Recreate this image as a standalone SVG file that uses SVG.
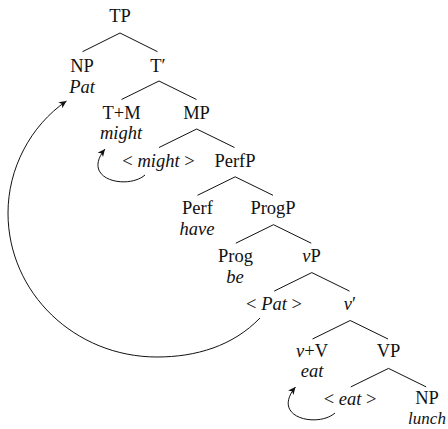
<svg xmlns="http://www.w3.org/2000/svg" width="448" height="429" viewBox="0 0 448 429">
<style>
text{font-family:"Liberation Serif","Times New Roman",serif;font-size:18.5px;fill:#111;text-anchor:middle}
.i{font-style:italic}
.br{stroke:#111;stroke-width:1;fill:none}
.mv{stroke:#111;stroke-width:1;fill:none;marker-end:url(#ah)}
</style>
<defs>
<marker id="ah" viewBox="-8 -4 9 8" refX="0" refY="0" markerWidth="9" markerHeight="8" markerUnits="userSpaceOnUse" orient="auto">
<path d="M0,0 L-7.5,-3.5 L-5.5,0 L-7.5,3.5 Z" fill="#111"/>
</marker>
</defs>
<rect width="448" height="429" fill="#fff"/>
<g id="connectors">
<path class="br" d="M82.5,51.7 L120,33 L157.5,51.7"/>
<path class="br" d="M121.5,99.5 L159,81 L196.5,99.5"/>
<path class="br" d="M159,147.5 L196.7,129 L234.5,147.5"/>
<path class="br" d="M197.5,195.3 L235.2,176.8 L273,195.3"/>
<path class="br" d="M235.8,243.2 L273.5,224.7 L311.2,243.2"/>
<path class="br" d="M274.2,291.1 L311.8,272.6 L349.5,291.1"/>
<path class="br" d="M312.5,339 L350.2,320.5 L388,339"/>
<path class="br" d="M350.8,386.9 L388.5,368.4 L426.2,386.9"/>
<path class="mv" d="M145,175 C128,190 80,180 105,149"/>
<path class="mv" d="M335,413 C318,428 270,418 295.5,387"/>
<path class="mv" d="M260,318 C233,346 196,357 157,357 C75,357 8,293 8,213 C8,169 30,126 66.5,101"/>
</g>
<g id="TP"><text x="120" y="22">TP</text></g>
<g id="NP-Pat"><text x="82" y="71.5">NP</text><text class="i" x="82" y="93">Pat</text></g>
<g id="Tbar"><text x="158" y="71.5">T′</text></g>
<g id="TM"><text x="121.5" y="118.5">T+M</text><text class="i" x="121" y="138.5">might</text></g>
<g id="MP"><text x="196.5" y="118.5">MP</text></g>
<g id="might-trace"><text x="158.5" y="166.5">&lt; <tspan class="i">might</tspan> &gt;</text></g>
<g id="PerfP"><text x="235" y="166.5">PerfP</text></g>
<g id="Perf"><text x="197.5" y="214">Perf</text><text class="i" x="197" y="235">have</text></g>
<g id="ProgP"><text x="273" y="214">ProgP</text></g>
<g id="Prog"><text x="235.5" y="261.5">Prog</text><text class="i" x="235" y="283">be</text></g>
<g id="vP"><text x="311.5" y="261.5"><tspan class="i">v</tspan>P</text></g>
<g id="Pat-trace"><text x="274" y="309.5">&lt; <tspan class="i">Pat</tspan> &gt;</text></g>
<g id="vbar"><text x="350" y="309.5"><tspan class="i">v</tspan>′</text></g>
<g id="vV"><text x="312" y="357"><tspan class="i">v</tspan>+V</text><text class="i" x="312" y="377">eat</text></g>
<g id="VP"><text x="388.5" y="357">VP</text></g>
<g id="eat-trace"><text x="350" y="405">&lt; <tspan class="i">eat</tspan> &gt;</text></g>
<g id="NP-lunch"><text x="427" y="404">NP</text><text class="i" x="427" y="424" style="font-size:17px">lunch</text></g>
</svg>
